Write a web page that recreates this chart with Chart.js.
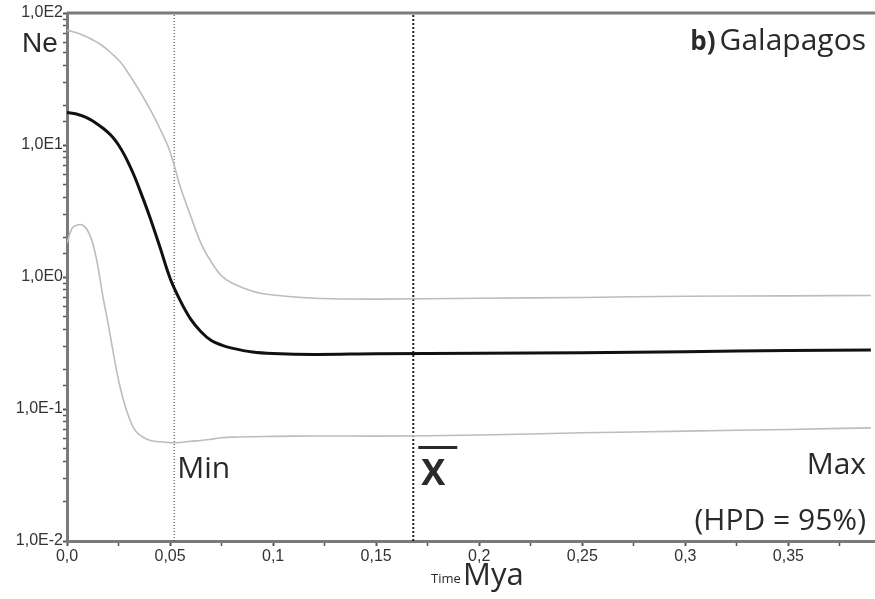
<!DOCTYPE html>
<html>
<head>
<meta charset="utf-8">
<script src="https://cdn.jsdelivr.net/npm/chart.js@4.4.1/dist/chart.umd.min.js"></script>
<style>
  html, body { margin: 0; padding: 0; background: #fff; }
  canvas { display: block; }
</style>
</head>
<body>
<canvas id="ne-chart" width="875" height="599"></canvas>
<script>
// ===================================================
// Bayesian skyline plot - Galapagos (Ne vs time, Mya)
// ===================================================

// Time axis (Mya), shared by the three Ne series
var timeMya = [0, 0.0025, 0.005, 0.0075, 0.01, 0.0125, 0.015, 0.0175, 0.02, 0.0225,
  0.025, 0.0275, 0.03, 0.0325, 0.035, 0.04, 0.045, 0.05, 0.055, 0.06, 0.065, 0.07,
  0.075, 0.08, 0.09, 0.1, 0.12, 0.15, 0.2, 0.25, 0.3, 0.35, 0.39];

// Median Ne
var neMedian = [17.6, 17.4, 17.1, 16.6, 16.0, 15.2, 14.3, 13.4, 12.4, 11.3,
  10.0, 8.6, 7.2, 5.9, 4.7, 2.9, 1.7, 0.98, 0.66, 0.48, 0.385, 0.33,
  0.305, 0.289, 0.27, 0.263, 0.259, 0.262, 0.264, 0.267, 0.272, 0.277, 0.28];

// Upper 95% HPD
var neUpper = [74, 72.5, 70.5, 68, 65.5, 62.5, 59.5, 56, 52, 48,
  44, 39.5, 34.5, 30, 26, 19, 13.4, 8.9, 4.8, 2.9, 1.8, 1.3,
  1.02, 0.9, 0.78, 0.73, 0.69, 0.68, 0.69, 0.7, 0.715, 0.72, 0.725];

// Lower 95% HPD
var neLower = [1.8, 2.35, 2.48, 2.48, 2.25, 1.8, 1.2, 0.7, 0.44, 0.265,
  0.165, 0.115, 0.087, 0.071, 0.064, 0.058, 0.0565, 0.0556, 0.0558, 0.057, 0.0577, 0.059,
  0.0605, 0.0612, 0.0617, 0.062, 0.0625, 0.0623, 0.0635, 0.066, 0.068, 0.07, 0.072];

// HPD min and mean markers (Mya)
var markerTimes = [0.052, 0.168];
var markerNeRange = [0.01, 100];

// Axis ranges
var xRange = [0, 0.392];
var yRange = [0.01, 100];

function toPoints(xs, ys) {
  return xs.map(function(x, i) { return { x: x, y: ys[i] }; });
}

function vLine(t) {
  return markerNeRange.map(function(v) { return { x: t, y: v }; });
}

var axisGrey = '#7a7a7a';
var textColor = '#2a2a2a';

/**
 * Draws the top frame line and all free text
 */
var annotationPlugin = {
  id: 'annotations',
  afterDraw: function(chart) {
    var ctx = chart.ctx;
    var area = chart.chartArea;
    var xs = chart.scales.x;
    ctx.save();

    // top frame line
    ctx.strokeStyle = axisGrey;
    ctx.lineWidth = 3;
    ctx.beginPath();
    ctx.moveTo(area.left, area.top);
    ctx.lineTo(chart.width, area.top);
    ctx.stroke();

    ctx.fillStyle = textColor;
    ctx.textBaseline = 'alphabetic';

    // Ne
    ctx.textAlign = 'left';
    ctx.font = '28px "Liberation Sans", Arial, sans-serif';
    ctx.fillText('Ne', 22, 52);

    // b) Galapagos
    ctx.textAlign = 'right';
    ctx.font = '30px "Open Sans", sans-serif';
    ctx.fillText('Galapagos', 866, 50);
    var gw = ctx.measureText('Galapagos').width;
    ctx.font = 'bold 26px "Open Sans", sans-serif';
    ctx.fillText('b)', 866 - gw - 4, 50);

    // Min
    var minX = xs.getPixelForValue(markerTimes[0]);
    ctx.textAlign = 'left';
    ctx.font = '30px "Open Sans", sans-serif';
    ctx.fillText('Min', minX + 3, 478);

    // mean (x bar)
    var meanX = xs.getPixelForValue(markerTimes[1]);
    ctx.font = 'bold 36px "Open Sans", sans-serif';
    ctx.fillText('X', meanX + 8, 485);
    ctx.fillRect(meanX + 5, 446, 39, 3);

    // Max / HPD
    ctx.textAlign = 'right';
    ctx.font = '30px "Open Sans", sans-serif';
    ctx.fillText('Max', 866, 474);
    ctx.fillText('(HPD = 95%)', 866, 530);

    // Time Mya
    ctx.textAlign = 'left';
    ctx.font = '13px "Open Sans", sans-serif';
    ctx.fillText('Time', 431, 583);
    ctx.font = '31px "Open Sans", sans-serif';
    ctx.fillText('Mya', 463, 585);

    ctx.restore();
  }
};

var lineStyle = {
  pointRadius: 0,
  fill: false,
  tension: 0.35
};

var chart = new Chart(document.getElementById('ne-chart').getContext('2d'), {
  type: 'line',
  data: {
    datasets: [
      Object.assign({
        label: 'Upper HPD',
        data: toPoints(timeMya, neUpper),
        borderColor: '#bdbdbd',
        borderWidth: 1.6
      }, lineStyle),
      Object.assign({
        label: 'Lower HPD',
        data: toPoints(timeMya, neLower),
        borderColor: '#bdbdbd',
        borderWidth: 1.6
      }, lineStyle),
      Object.assign({
        label: 'Median',
        data: toPoints(timeMya, neMedian),
        borderColor: '#111111',
        borderWidth: 3
      }, lineStyle),
      {
        label: 'Min',
        data: vLine(markerTimes[0]),
        borderColor: '#333',
        borderWidth: 1,
        borderDash: [1, 2],
        pointRadius: 0
      },
      {
        label: 'Mean',
        data: vLine(markerTimes[1]),
        borderColor: '#222',
        borderWidth: 2,
        borderDash: [2, 2],
        pointRadius: 0
      }
    ]
  },
  options: {
    responsive: false,
    animation: false,
    layout: {
      padding: { top: 13, right: 0, left: 0, bottom: 0 }
    },
    plugins: {
      legend: { display: false },
      tooltip: { enabled: false }
    },
    scales: {
      x: {
        type: 'linear',
        min: xRange[0],
        max: xRange[1],
        afterFit: function(scale) { scale.height = 58; },
        border: { display: true, color: axisGrey, width: 3 },
        grid: {
          drawOnChartArea: false,
          drawTicks: true,
          tickLength: 5,
          tickColor: '#555',
          tickWidth: function(ctx) {
            return ctx.tick && ctx.tick.label ? 2 : 1.5;
          }
        },
        ticks: {
          stepSize: 0.025,
          includeBounds: false,
          autoSkip: false,
          maxRotation: 0,
          padding: 1,
          color: '#333',
          font: { family: '"Liberation Sans", Arial, sans-serif', size: 16 },
          callback: function(value) {
            var k = value / 0.05;
            if (Math.abs(k - Math.round(k)) > 1e-6) return '';
            if (value === 0) return '0,0';
            return String(+value.toFixed(3)).replace('.', ',');
          }
        }
      },
      y: {
        type: 'logarithmic',
        min: yRange[0],
        max: yRange[1],
        afterFit: function(scale) { scale.width = 67; },
        border: { display: true, color: axisGrey, width: 3 },
        grid: {
          drawOnChartArea: false,
          drawTicks: true,
          tickLength: 4,
          tickColor: '#555',
          tickWidth: function(ctx) {
            return ctx.tick && ctx.tick.label ? 2 : 1.5;
          }
        },
        ticks: {
          autoSkip: false,
          padding: 0,
          color: '#333',
          font: { family: '"Liberation Sans", Arial, sans-serif', size: 16 },
          callback: function(value) {
            var e = Math.log10(value);
            if (Math.abs(e - Math.round(e)) > 1e-9) return '';
            return '1,0E' + Math.round(e);
          }
        }
      }
    }
  },
  plugins: [annotationPlugin]
});
</script>
</body>
</html>
